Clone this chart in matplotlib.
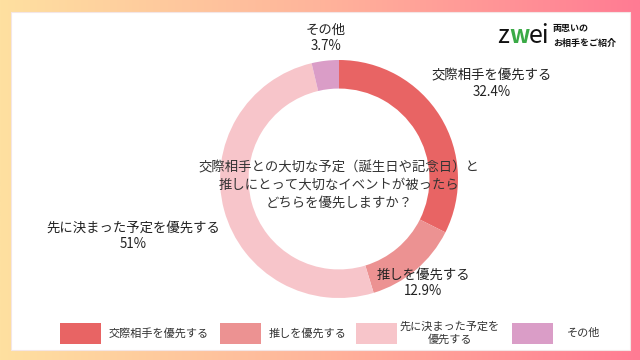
import numpy as np
import matplotlib.pyplot as plt
from matplotlib.colors import LinearSegmentedColormap
from matplotlib.patches import Rectangle

plt.rcParams['font.family'] = ['Noto Sans CJK JP', 'DejaVu Sans']

# データ
labels = ['交際相手を優先する', '推しを優先する', '先に決まった予定を優先する', 'その他']
legend_labels = ['交際相手を優先する', '推しを優先する', '先に決まった予定を\n優先する', 'その他']
values = [32.4, 12.9, 51, 3.7]
value_text = ['32.4%', '12.9%', '51%', '3.7%']
colors = ['#E86464', '#EC9292', '#F7C5CA', '#DA9DC7']
question = '交際相手との大切な予定（誕生日や記念日）と\n推しにとって大切なイベントが被ったら\nどちらを優先しますか？'

W, H = 640, 360
fig = plt.figure(figsize=(6.4, 3.6), dpi=100)

# 背景のグラデーション枠
bg = fig.add_axes([0, 0, 1, 1])
grad = np.linspace(0, 1, 256).reshape(1, -1)
cmap = LinearSegmentedColormap.from_list('frame', ['#FEE0A0', '#FFB49B', '#FF7B93'])
bg.imshow(grad, aspect='auto', cmap=cmap, extent=[0, W, 0, H])
bg.add_patch(Rectangle((11, H - 350), 619, 338, facecolor='white', edgecolor='#F3E6E6', lw=0.8))
bg.set_xlim(0, W)
bg.set_ylim(0, H)
bg.axis('off')

# ドーナツグラフ
cx, cy, r = 339, 179, 119
ax = fig.add_axes([(cx - r) / W, (H - cy - r) / H, 2 * r / W, 2 * r / H])
ax.pie(values, colors=colors, startangle=90, counterclock=False,
       wedgeprops=dict(width=0.24, edgecolor='none'))
ax.set_xlim(-1, 1)
ax.set_ylim(-1, 1)
ax.set_aspect('auto')
ax.axis('off')

# ラベル
label_pos = [(492, 84), (423, 283), (133, 236), (326, 38)]
for lab, txt, (x, y) in zip(labels, value_text, label_pos):
    fig.text(x / W, 1 - y / H, lab + '\n' + txt, ha='center', va='center',
             fontsize=9.6, color='#222222', linespacing=1.2)

fig.text(339 / W, 1 - 185 / H, question, ha='center', va='center',
         fontsize=9.6, color='#333333', linespacing=1.35)

# 凡例
patch_x = [60, 220, 356, 512]
text_x = [159, 308, 450, 584]
for px, tx, lab, c in zip(patch_x, text_x, legend_labels, colors):
    bg.add_patch(Rectangle((px, H - 344), 41, 21, facecolor=c, edgecolor='none'))
    bg.text(tx, H - 333, lab, ha='center', va='center', fontsize=8,
            color='#333333', linespacing=1.3)

# ロゴ
bg.text(497, H - 36, 'z', fontsize=18, color='#111111', ha='left', va='center')
bg.text(509, H - 36, 'w', fontsize=17, color='#3AAA46', ha='left', va='center', fontweight='bold')
bg.text(529, H - 36, 'ei', fontsize=18, color='#111111', ha='left', va='center')
bg.text(553, H - 29, '両思いの', fontsize=6.5, color='#111111', ha='left', va='center', fontweight='bold')
bg.text(553, H - 43, 'お相手をご紹介', fontsize=6.5, color='#111111', ha='left', va='center', fontweight='bold')

fig.savefig('out.png', dpi=100)
